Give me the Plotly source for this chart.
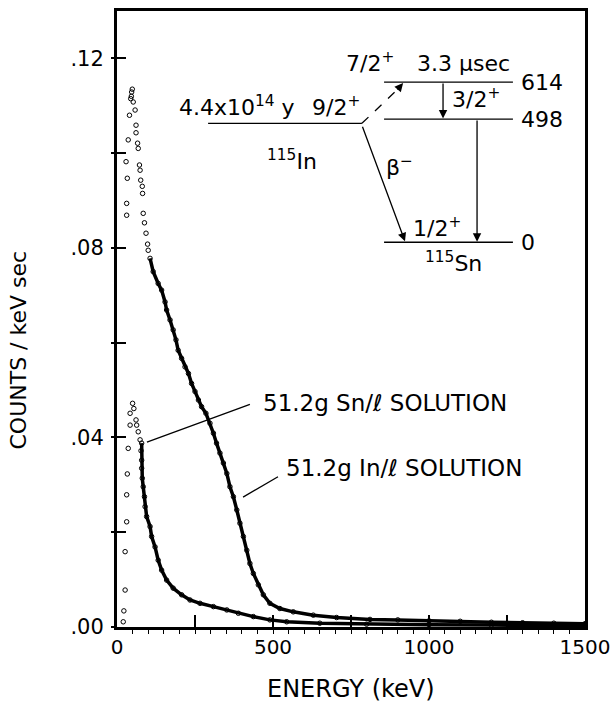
import plotly.graph_objects as go
import numpy as np

# ---------------- data ----------------
# 51.2 g In / l solution : main spectrum (energy keV, counts/keV sec)
in_E = [49, 47, 46, 44, 52, 58, 40, 61, 61, 66, 68, 72, 74, 76, 81, 82, 84, 88, 93, 98, 100,
        106, 116, 132, 143, 154, 159, 170, 180, 189, 196, 207, 218, 229, 239, 250, 261, 271,
        285, 298, 309, 319, 330, 341, 352, 362, 373, 384, 394, 405, 416, 426, 437, 453, 469,
        490, 522, 565, 629, 704, 811, 900, 1000, 1100, 1200, 1300, 1400, 1500]
in_y = [0.1135, 0.1129, 0.1120, 0.1115, 0.1108, 0.1091, 0.1080, 0.1059, 0.1043, 0.1021, 0.1010,
        0.0975, 0.0964, 0.0943, 0.0930, 0.0915, 0.0873, 0.0853, 0.0831, 0.0808, 0.0795,
        0.0778, 0.0750, 0.0725, 0.0711, 0.0686, 0.0669, 0.0648, 0.0627, 0.0606, 0.0584,
        0.0567, 0.0549, 0.0535, 0.0514, 0.0497, 0.0479, 0.0465, 0.0451, 0.0430, 0.0409,
        0.0388, 0.0367, 0.0346, 0.0324, 0.0296, 0.0275, 0.0247, 0.0219, 0.0191, 0.0162,
        0.0134, 0.0113, 0.0089, 0.0068, 0.0050, 0.0039, 0.0032, 0.0025, 0.0020, 0.0016,
        0.0015, 0.0013, 0.0012, 0.0010, 0.0009, 0.0008, 0.0007]
# In spectrum: low-energy rising edge points
in_edge_E = [29, 33, 36, 31, 31]
in_edge_y = [0.0982, 0.0947, 0.1028, 0.0894, 0.0869]

# 51.2 g Sn / l solution : main spectrum
sn_E = [50, 54, 61, 63, 68, 74, 79, 77, 79, 79, 81, 84, 88, 90, 95, 106, 111, 122, 132, 143,
        159, 180, 207, 234, 266, 309, 352, 389, 437, 490, 544, 650, 800, 1000, 1200, 1500]
sn_y = [0.0472, 0.0461, 0.0437, 0.0426, 0.0412, 0.0395, 0.0388, 0.0372, 0.0352, 0.0335,
        0.0314, 0.0296, 0.0275, 0.0254, 0.0233, 0.0212, 0.0191, 0.0169, 0.0141, 0.0120,
        0.0099, 0.0082, 0.0068, 0.0057, 0.0050, 0.0043, 0.0036, 0.0029, 0.0022, 0.0015,
        0.0011, 0.0008, 0.0006, 0.0005, 0.0004, 0.0003]
# Sn spectrum: low-energy rising edge points
sn_edge_E = [42, 42, 36, 33, 31, 31, 26, 26, 22, 20]
sn_edge_y = [0.0451, 0.0426, 0.0377, 0.0323, 0.0279, 0.0222, 0.0159, 0.0078, 0.0034, 0.0011]

# axis ticks
x_tickvals = [0, 250, 500, 750, 1000, 1250, 1500]
x_ticktext = ["0", "", "500", "", "1000", "", "1500"]
y_tickvals = [0.0, 0.02, 0.04, 0.06, 0.08, 0.10, 0.12]
y_ticktext = [".00", "", ".04", "", ".08", "", ".12"]

FONT = "DejaVu Sans"
BLACK = "black"

fig = go.Figure()

in_E_a, in_y_a = np.array(in_E), np.array(in_y)
sn_E_a, sn_y_a = np.array(sn_E), np.array(sn_y)
in_band = in_E_a >= 106
sn_band = sn_E_a >= 79

# dense bands (line through the read points)
fig.add_trace(go.Scatter(x=in_E_a[in_band], y=in_y_a[in_band], mode="lines",
                         line=dict(color=BLACK, width=3.5), hoverinfo="skip", showlegend=False))
fig.add_trace(go.Scatter(x=sn_E_a[sn_band], y=sn_y_a[sn_band], mode="lines",
                         line=dict(color=BLACK, width=3.5), hoverinfo="skip", showlegend=False))

marker = dict(symbol="circle-open", size=4.5, color=BLACK, line=dict(width=1, color=BLACK))
for xs, ys, name in [(in_E, in_y, "51.2g In/ℓ"), (in_edge_E, in_edge_y, "In edge"),
                     (sn_E, sn_y, "51.2g Sn/ℓ"), (sn_edge_E, sn_edge_y, "Sn edge")]:
    fig.add_trace(go.Scatter(x=xs, y=ys, mode="markers", marker=marker, name=name,
                             showlegend=False))

# helper overlay axis (outside parts of the crossing y ticks)
fig.add_trace(go.Scatter(x=[None], y=[None], yaxis="y2", showlegend=False, hoverinfo="skip"))

fig.update_layout(
    width=610, height=705,
    margin=dict(l=117, r=25, t=11, b=78, autoexpand=False),
    paper_bgcolor="white", plot_bgcolor="white",
    font=dict(family=FONT, size=21, color=BLACK),
    xaxis=dict(range=[0, 1500], tickmode="array", tickvals=x_tickvals, ticktext=x_ticktext,
               ticks="inside", ticklen=12, tickwidth=1.5, tickcolor=BLACK, automargin=False,
               minor=dict(ticks="outside", ticklen=4, dtick=50, tick0=0, tickcolor=BLACK, tickwidth=1.2),
               showgrid=False, zeroline=False, showline=True, linewidth=3, linecolor=BLACK,
               mirror=True, tickfont=dict(size=20, color=BLACK), ticklabeloverflow="allow"),
    yaxis=dict(range=[0, 0.13], tickmode="array", tickvals=y_tickvals, ticktext=y_ticktext,
               ticks="inside", ticklen=9, tickwidth=1.5, tickcolor=BLACK, automargin=False,
               showgrid=False, zeroline=False, showline=True, linewidth=3, linecolor=BLACK,
               mirror=True, tickfont=dict(size=21, color=BLACK), ticklabelstandoff=6),
    yaxis2=dict(range=[0, 0.13], overlaying="y", side="left", tickmode="array",
                tickvals=y_tickvals, ticks="outside", ticklen=5, tickwidth=1.5, tickcolor=BLACK,
                showticklabels=False, showgrid=False, zeroline=False, showline=False,
                automargin=False),
)

# axis titles
fig.add_annotation(text="ENERGY (keV)", xref="paper", yref="paper", x=0.5, y=-0.1,
                   xanchor="center", yanchor="middle", showarrow=False,
                   font=dict(size=24, color=BLACK))
fig.add_annotation(text="COUNTS / keV sec", xref="paper", yref="paper", x=-0.21, y=0.45,
                   textangle=-90, xanchor="center", yanchor="middle", showarrow=False,
                   font=dict(size=22, color=BLACK))

# solution labels and leader lines
fig.add_annotation(text="51.2g Sn/ℓ SOLUTION", x=462, y=0.0473, xanchor="left",
                   yanchor="middle", showarrow=False, font=dict(size=23, color=BLACK))
fig.add_annotation(text="51.2g In/ℓ SOLUTION", x=536, y=0.0336, xanchor="left",
                   yanchor="middle", showarrow=False, font=dict(size=23, color=BLACK))
line_style = dict(color=BLACK, width=1.3)
fig.add_shape(type="line", x0=96, y0=0.0390, x1=426, y1=0.0470, line=line_style)
fig.add_shape(type="line", x0=404, y0=0.0274, x1=516, y1=0.0317, line=line_style)

# ---------------- decay-scheme inset ----------------
lvl = dict(color=BLACK, width=1.3)
fig.add_shape(type="line", x0=292, y0=0.1063, x1=785, y1=0.1063, line=lvl)   # 115In 9/2+
fig.add_shape(type="line", x0=856, y0=0.1150, x1=1269, y1=0.1150, line=lvl)  # 614
fig.add_shape(type="line", x0=856, y0=0.1072, x1=1269, y1=0.1072, line=lvl)  # 498
fig.add_shape(type="line", x0=856, y0=0.0812, x1=1269, y1=0.0812, line=lvl)  # 0

# dashed branch to 614 level
fig.add_shape(type="line", x0=785, y0=0.1063, x1=905, y1=0.1138,
              line=dict(color=BLACK, width=1.3, dash="dash"))
arrow = dict(showarrow=True, arrowhead=2, arrowsize=1.3, arrowwidth=1.3, arrowcolor=BLACK,
             axref="x", ayref="y", text="", standoff=0, startstandoff=0)
fig.add_annotation(x=917, y=0.1148, ax=895, ay=0.1131, **arrow)
# beta- to ground
fig.add_annotation(x=923, y=0.0814, ax=785, ay=0.1059, **arrow)
# gamma 614 -> 498
fig.add_annotation(x=1045, y=0.1073, ax=1045, ay=0.1150, **arrow)
# gamma 498 -> 0
fig.add_annotation(x=1154, y=0.0813, ax=1154, ay=0.1072, **arrow)

def label(text, x, y, anchor="center", size=22):
    fig.add_annotation(text=text, x=x, y=y, xanchor=anchor, yanchor="middle",
                       showarrow=False, font=dict(size=size, color=BLACK))

label("7/2<sup>+</sup>", 811, 0.1192)
label("3.3 μsec", 1112, 0.1190)
label("614", 1290, 0.1150, "left")
label("498", 1290, 0.1072, "left")
label("0", 1290, 0.0812, "left")
label("4.4x10<sup>14</sup> y", 385, 0.1099)
label("9/2<sup>+</sup>", 702, 0.1099)
label("3/2<sup>+</sup>", 1150, 0.1116)
label("<sup>115</sup>In", 561, 0.0985)
label("β<sup>−</sup>", 907, 0.0973)
label("1/2<sup>+</sup>", 1026, 0.0844)
label("<sup>115</sup>Sn", 1077, 0.0770)

fig.write_html("out.html", config={"displayModeBar": False},
               post_script="document.body.style.margin='0';document.body.style.overflow='hidden';")
